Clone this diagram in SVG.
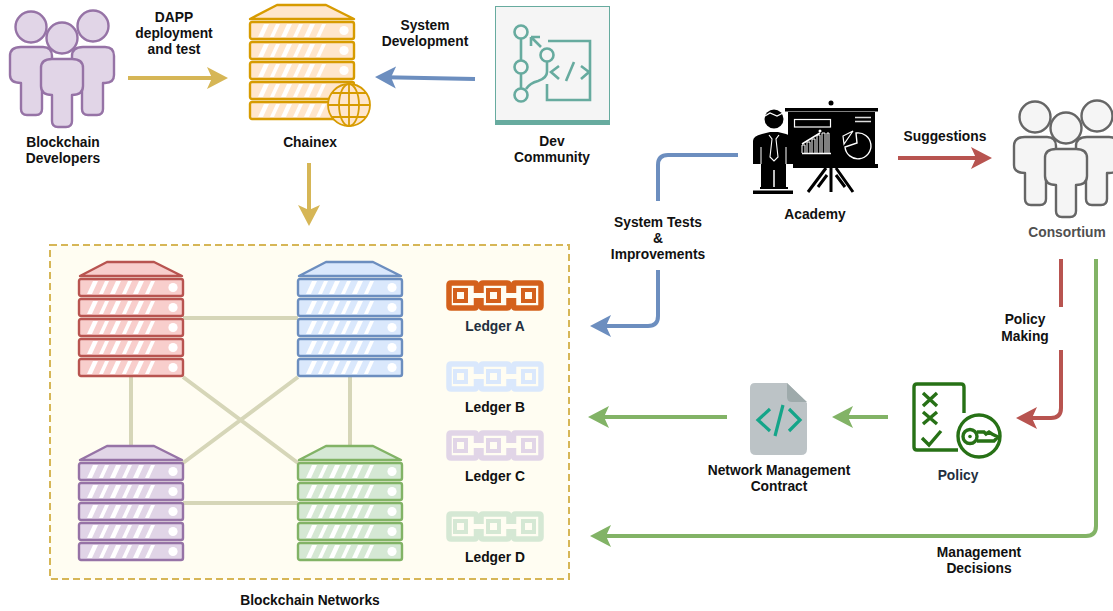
<svg xmlns="http://www.w3.org/2000/svg" width="1113" height="611" viewBox="0 0 1113 611">
<style>
text{font-family:"Liberation Sans",Arial,sans-serif;font-weight:700;font-size:13.8px;text-anchor:middle;fill:#111}
.dk{fill:#232f3e}
.gr{fill:#505050}
.c{fill:none;stroke-width:4}
.y{stroke:#d6b656}.b{stroke:#6c8ebf}.r{stroke:#b85450}.g{stroke:#82b366}
.net{fill:none;stroke:#d6d6b8;stroke-width:4}
.srv{stroke-width:2.4;stroke-linejoin:round}
.t{fill:none;stroke:#67ab9f;stroke-width:2.6}
.pg{fill:none;stroke:#277116;stroke-width:3.4}
</style>
<defs>
<marker id="ay" markerUnits="userSpaceOnUse" markerWidth="24" markerHeight="24" refX="10" refY="12" orient="auto"><path d="M0,1L21,12L0,23L5,12Z" fill="#d6b656"/></marker>
<marker id="ab" markerUnits="userSpaceOnUse" markerWidth="24" markerHeight="24" refX="10" refY="12" orient="auto"><path d="M0,1L21,12L0,23L5,12Z" fill="#6c8ebf"/></marker>
<marker id="ar" markerUnits="userSpaceOnUse" markerWidth="24" markerHeight="24" refX="10" refY="12" orient="auto"><path d="M0,1L21,12L0,23L5,12Z" fill="#b85450"/></marker>
<marker id="ag" markerUnits="userSpaceOnUse" markerWidth="24" markerHeight="24" refX="10" refY="12" orient="auto"><path d="M0,1L21,12L0,23L5,12Z" fill="#82b366"/></marker>
<g id="row">
<rect x="0" y="0" width="104" height="17" rx="2" class="srv" stroke="currentColor"/>
<path d="M8,15L14,2H19L13,15ZM20,15L26,2H30L24,15ZM31,15L37,2H42L36,15ZM43,15L49,2H53L47,15ZM54,15L60,2H65L59,15ZM66,15L72,2H76L70,15Z" fill="#fff"/>
<circle cx="94" cy="8.500" r="4.600" fill="#fff"/>
</g>
<g id="server">
<path d="M1,15L28,1H75L103,15Z" class="srv" stroke="currentColor"/>
<use href="#row" y="18"/><use href="#row" y="38"/><use href="#row" y="58"/><use href="#row" y="78"/><use href="#row" y="98"/>
</g>
<g id="people" stroke-width="2.400" stroke-linejoin="round">
<circle cx="21" cy="16" r="15.500"/><circle cx="83" cy="15" r="15.500"/>
<path d="M11,36H33Q42,36 42,45V64Q42,72 33,72H32V98Q32,104 26,104H17Q11,104 11,98V72Q0,72 0,64V45Q0,36 11,36Z"/>
<path d="M73,36H95Q104,36 104,45V64Q104,72 95,72H93V98Q93,104 87,104H78Q72,104 72,98V72Q62,72 62,64V45Q62,36 73,36Z"/>
<circle cx="52" cy="27" r="15.500"/>
<path d="M42,48H62Q73,48 73,57V75Q73,84 62,84V110Q62,116 56,116H48Q42,116 42,110V84Q31,84 31,75V57Q31,48 42,48Z"/>
</g>
<g id="chain" fill="none" stroke-width="6">
<path stroke-width="5.500" d="M30.500,13V5Q30.500,3 28.500,3H5Q3,3 3,5V26Q3,28 5,28H28.500Q30.500,28 30.500,26V18"/>
<path stroke-width="5.500" d="M35,13V5Q35,3 37,3H61Q63,3 63,5V13M63,18V26Q63,28 61,28H37Q35,28 35,26V18"/>
<path stroke-width="5.500" d="M67.500,13V5Q67.500,3 69.500,3H93Q95,3 95,5V26Q95,28 93,28H69.500Q67.500,28 67.500,26V18"/>
<rect x="9" y="10" width="11" height="11" stroke-width="4"/>
<rect x="42" y="10" width="11" height="11" stroke-width="4"/>
<rect x="77" y="10" width="11" height="11" stroke-width="4"/>
<path stroke-width="2.500" d="M26,13H39M26,18H39M59,13H72M59,18H72" opacity="0"/>
</g>
</defs>

<rect width="1113" height="611" fill="#fff"/>
<g id="networks"><rect x="50" y="245" width="519" height="334" fill="#fffdf2" stroke="#d6b656" stroke-width="2" stroke-dasharray="7 4"/></g>

<g id="connectors">
<path class="net" d="M183,318H298M131,377V445M350,377V445M183,377L298,463M298,377L183,463M183,503H298"/>
<path class="c y" marker-end="url(#ay)" d="M128,78H217"/>
<path class="c y" marker-end="url(#ay)" d="M309,163V215"/>
<path class="c b" marker-end="url(#ab)" d="M475,79L386,77.200"/>
<path class="c r" marker-end="url(#ar)" d="M898,158H981"/>
<path class="c b" d="M738,155H668Q658,155 658,165V201"/>
<path class="c b" marker-end="url(#ab)" d="M658,270V316Q658,326 648,326H601"/>
<path class="c r" d="M1061,259V307"/>
<path class="c r" marker-end="url(#ar)" d="M1061,350V408Q1061,418 1051,418H1027"/>
<path class="c g" marker-end="url(#ag)" d="M1096,259V526Q1096,536 1086,536H601"/>
<path class="c g" marker-end="url(#ag)" d="M888,417H843"/>
<path class="c g" marker-end="url(#ag)" d="M727,417H599"/>
</g>

<g id="blockchain-developers">
<use href="#people" x="10" y="11" fill="#e1d5e7" stroke="#9673a6"/>
<text x="63" y="147">Blockchain</text><text x="63" y="163">Developers</text>
</g>
<text x="174" y="22">DAPP</text><text x="174" y="38">deployment</text><text x="174" y="54">and test</text>

<g id="chainex" color="#d79b00" fill="#ffe6cc">
<path d="M250,19L277,5H326L354,19Z" class="srv" stroke="#d79b00"/>
<use href="#row" x="250" y="22"/><use href="#row" x="250" y="42"/><use href="#row" x="250" y="62"/><use href="#row" x="250" y="82"/><use href="#row" x="250" y="102"/>
<g fill="#ffe6cc" stroke="#d79b00" stroke-width="1.800">
<circle cx="349" cy="105" r="21"/>
<ellipse cx="349" cy="105" rx="10" ry="21" fill="none"/>
<path d="M349,84V126M328,105H370M332,93H366M332,117H366" fill="none"/>
</g>
<text x="310" y="147">Chainex</text>
</g>
<text x="425" y="30">System</text><text x="425" y="46">Development</text>

<g id="dev-community">
<rect x="495.500" y="6.500" width="114" height="118" fill="#f5f5f5" stroke="#67ab9f"/>
<rect x="495" y="120" width="115" height="5" fill="#67ab9f"/>
<path class="t" d="M521,39V60M521,74V88M526,89Q530,83 538,81Q547,78 547,72V62M548,41H590V100H547V84M531,37L541,47M531,37V46M531,37H540M559,66L551,72L559,79M581,66L589,72L581,79M574,62L566,81"/>
<circle class="t" cx="521" cy="32" r="6.500"/><circle class="t" cx="521" cy="67" r="6.500"/><circle class="t" cx="521" cy="95" r="6.500"/><circle class="t" cx="547" cy="55" r="6.500"/>
<text x="552" y="146">Dev</text><text x="552" y="162">Community</text>
</g>

<g id="academy">
<circle cx="831" cy="103" r="2.500" fill="#000"/>
<rect x="785" y="108" width="93" height="3.500" fill="#000"/>
<rect x="788" y="112" width="87" height="52" fill="#000"/>
<rect x="793" y="164" width="85" height="4" fill="#000"/>
<rect x="794.500" y="119.500" width="36" height="7.500" fill="#000" stroke="#fff" stroke-width="1.200"/>
<path d="M855,117.500H871M855,121.500H871" stroke="#ddd" stroke-width="1.600"/>
<path d="M802,153V145H805V153M807,153V142H810V153M812,153V139H815V153M817,153V135H820V153M822,153V133H825V153M827,153V133H829V153" stroke="#fff" stroke-width="1" fill="none"/>
<path d="M802,153.500H831M802,144L820,133" stroke="#fff" stroke-width="1.500" fill="none"/>
<circle cx="820" cy="131" r="1.500" fill="#fff"/>
<path d="M856,133A13,13 0 1 1 845,147L857,143Z" fill="none" stroke="#fff" stroke-width="1.400"/>
<path d="M853,131L844,144L843,136Z" fill="none" stroke="#fff" stroke-width="1.200"/>
<path d="M826,168L808,192M831,168V192M836,168L853,192M818,187L827,175M836,175L845,187" stroke="#000" stroke-width="3" fill="none"/>
<circle cx="774" cy="119" r="9.500" fill="#000"/>
<path d="M765,116L770,113L777,116L783,113" stroke="#fff" stroke-width="1.200" fill="none"/>
<path d="M753,141Q753,136 762,134L770,132H778L786,134Q793,136 793,141V164H786V187H761V164H753Z" fill="#000"/>
<path d="M769,135L772,139L770,157L774,161L778,157L776,139L779,135" fill="none" stroke="#fff" stroke-width="1.100"/>
<path d="M761,147V164M786,147V164" stroke="#fff" stroke-width="1"/>
<path d="M774,170V187" stroke="#fff" stroke-width="1.500"/>
<rect x="760" y="187" width="28" height="2" fill="#000"/>
<rect x="753" y="190.500" width="40" height="3.500" fill="#000"/>
<text x="815" y="219">Academy</text>
</g>
<text x="945" y="141">Suggestions</text>

<g id="consortium">
<use href="#people" x="1014" y="101" fill="#f5f5f5" stroke="#666"/>
<text x="1067" y="237" class="gr">Consortium</text>
</g>

<text x="658" y="227">System Tests</text><text x="658" y="243">&amp;</text><text x="658" y="259">Improvements</text>
<text x="1025" y="324">Policy</text><text x="1025" y="341">Making</text>
<text x="979" y="557">Management</text><text x="979" y="573">Decisions</text>

<g id="server-red" color="#b85450" fill="#f8cecc"><use href="#server" x="79" y="261"/></g>
<g id="server-blue" color="#6c8ebf" fill="#dae8fc"><use href="#server" x="298" y="261"/></g>
<g id="server-purple" color="#9673a6" fill="#e1d5e7"><use href="#server" x="79" y="445"/></g>
<g id="server-green" color="#82b366" fill="#d5e8d4"><use href="#server" x="298" y="445"/></g>

<g id="ledger-a" stroke="#d4611c"><use href="#chain" x="446" y="280"/><text x="495" y="331" class="dk" stroke="none">Ledger A</text></g>
<g id="ledger-b" stroke="#dae8fc"><use href="#chain" x="446" y="361"/><text x="495" y="412" stroke="none">Ledger B</text></g>
<g id="ledger-c" stroke="#e1d5e7"><use href="#chain" x="446" y="430"/><text x="495" y="481" stroke="none">Ledger C</text></g>
<g id="ledger-d" stroke="#d5e8d4"><use href="#chain" x="446" y="511"/><text x="495" y="562" stroke="none">Ledger D</text></g>
<text x="310" y="605">Blockchain Networks</text>

<g id="network-management-contract">
<path d="M755,383H787L807,403V449Q807,455 801,455H756Q750,455 750,449V388Q750,383 755,383Z" fill="#bcc3c6"/>
<path d="M787,383L807,402H792Q787,402 787,397Z" fill="#9eaaab"/>
<path d="M770,409L758,420L770,431M789,409L800,420L789,431M783,405L775,436" fill="none" stroke="#15a589" stroke-width="3.200"/>
<text x="779" y="475">Network Management</text><text x="779" y="491">Contract</text>
</g>

<g id="policy">
<path class="pg" d="M964,413V387Q964,384 961,384H917Q914,384 914,387V447Q914,450 917,450H958"/>
<path class="pg" stroke-width="3.800" d="M923,393L937,406M937,393L923,406M923,412L937,424M937,412L923,424M922,438L929,445L941,431"/>
<circle class="pg" cx="979" cy="436" r="21"/>
<circle class="pg" stroke-width="2.800" cx="970" cy="436.500" r="7"/><circle cx="970" cy="436.500" r="1.800" fill="#277116"/>
<path class="pg" stroke-width="2.400" d="M977,432H984L986,434L989,432L992,434L998,437L994,441H977"/>
<text x="958" y="480" class="dk">Policy</text>
</g>
</svg>
